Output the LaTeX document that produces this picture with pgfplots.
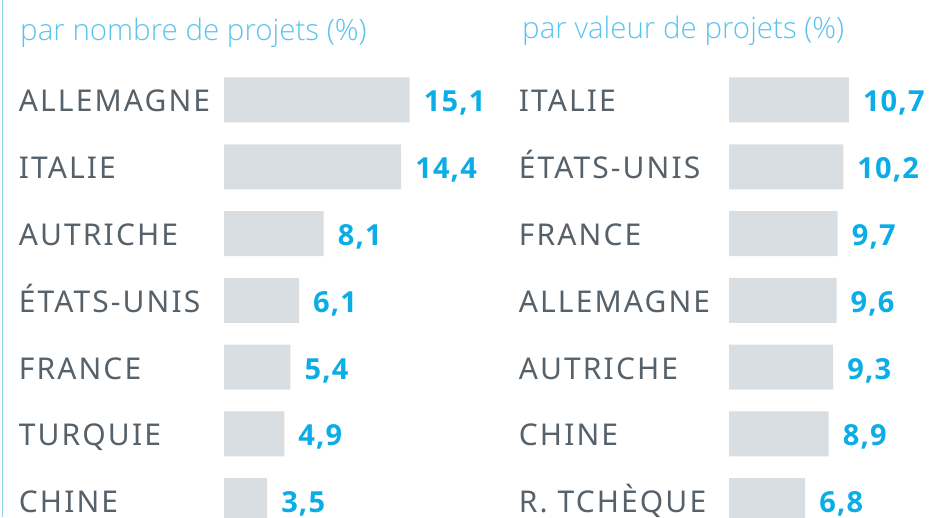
\documentclass[border=0pt]{standalone}
\usepackage{fontspec}
\setmainfont{Noto Sans}
\newfontfamily\titfont{Open Sans Light}
\newfontfamily\valfont{Open Sans Bold}[LetterSpace=4]
\usepackage{pgfplots}
\pgfplotsset{compat=1.18}
\definecolor{labgrey}{HTML}{56616A}
\definecolor{bargrey}{HTML}{D9DEE2}
\definecolor{valblue}{HTML}{0AADE6}
\definecolor{titblue}{HTML}{5BC4EE}
\definecolor{linblue}{HTML}{8DD3F0}
\pgfplotsset{
  panel/.style={
    scale only axis, height=517pt, anchor=north west,
    xmin=0, ymin=-1.498, ymax=6.247, y dir=reverse,
    xbar, bar width=45pt,
    axis line style={draw=none}, tick style={draw=none},
    xtick=\empty, ytick={0,...,6},
    yticklabel style={anchor=base west, inner sep=0pt, yshift=-12pt,
      font=\fontsize{30}{32}\selectfont\addfontfeatures{LetterSpace=7}, text=labgrey},
    nodes near coords={\pgfmathprintnumber[fixed, fixed zerofill, precision=1, use comma, assume math mode=true]{\pgfplotspointmeta}},
    every node near coord/.append style={anchor=base west, inner sep=0pt, xshift=14pt, yshift=-12pt,
      font=\valfont\fontsize{29}{31}\selectfont, text=valblue},
    clip=false,
  }
}
\begin{document}
\begin{tikzpicture}
\useasboundingbox (0pt,0pt) rectangle (931pt,517pt);
\clip (0pt,0pt) rectangle (931pt,517pt);
\draw[linblue, line width=1.5pt] (2.5pt,0pt) -- (2.5pt,517pt);
\node[anchor=base west, inner sep=0pt, font=\titfont\fontsize{29.5}{31}\selectfont, text=titblue] at (20pt,476pt) {par nombre de projets (\%)};
\node[anchor=base west, inner sep=0pt, font=\titfont\fontsize{29.5}{31}\selectfont, text=titblue] at (522pt,478pt) {par valeur de projets (\%)};
\begin{axis}[panel, at={(224pt,517pt)}, width=246pt, xmax=20,
  yticklabels={ALLEMAGNE,ITALIE,AUTRICHE,ÉTATS-UNIS,FRANCE,TURQUIE,CHINE},
  yticklabel style={xshift=-201pt}]
\addplot[fill=bargrey, draw=none] coordinates {(15.1,0) (14.4,1) (8.1,2) (6.1,3) (5.4,4) (4.9,5) (3.5,6)};
\end{axis}
\begin{axis}[panel, at={(729pt,517pt)}, width=201.6pt, xmax=18,
  yticklabels={ITALIE,ÉTATS-UNIS,FRANCE,ALLEMAGNE,AUTRICHE,CHINE,R. TCHÈQUE},
  yticklabel style={xshift=-206pt}]
\addplot[fill=bargrey, draw=none] coordinates {(10.7,0) (10.2,1) (9.7,2) (9.6,3) (9.3,4) (8.9,5) (6.8,6)};
\end{axis}
\end{tikzpicture}
\end{document}
